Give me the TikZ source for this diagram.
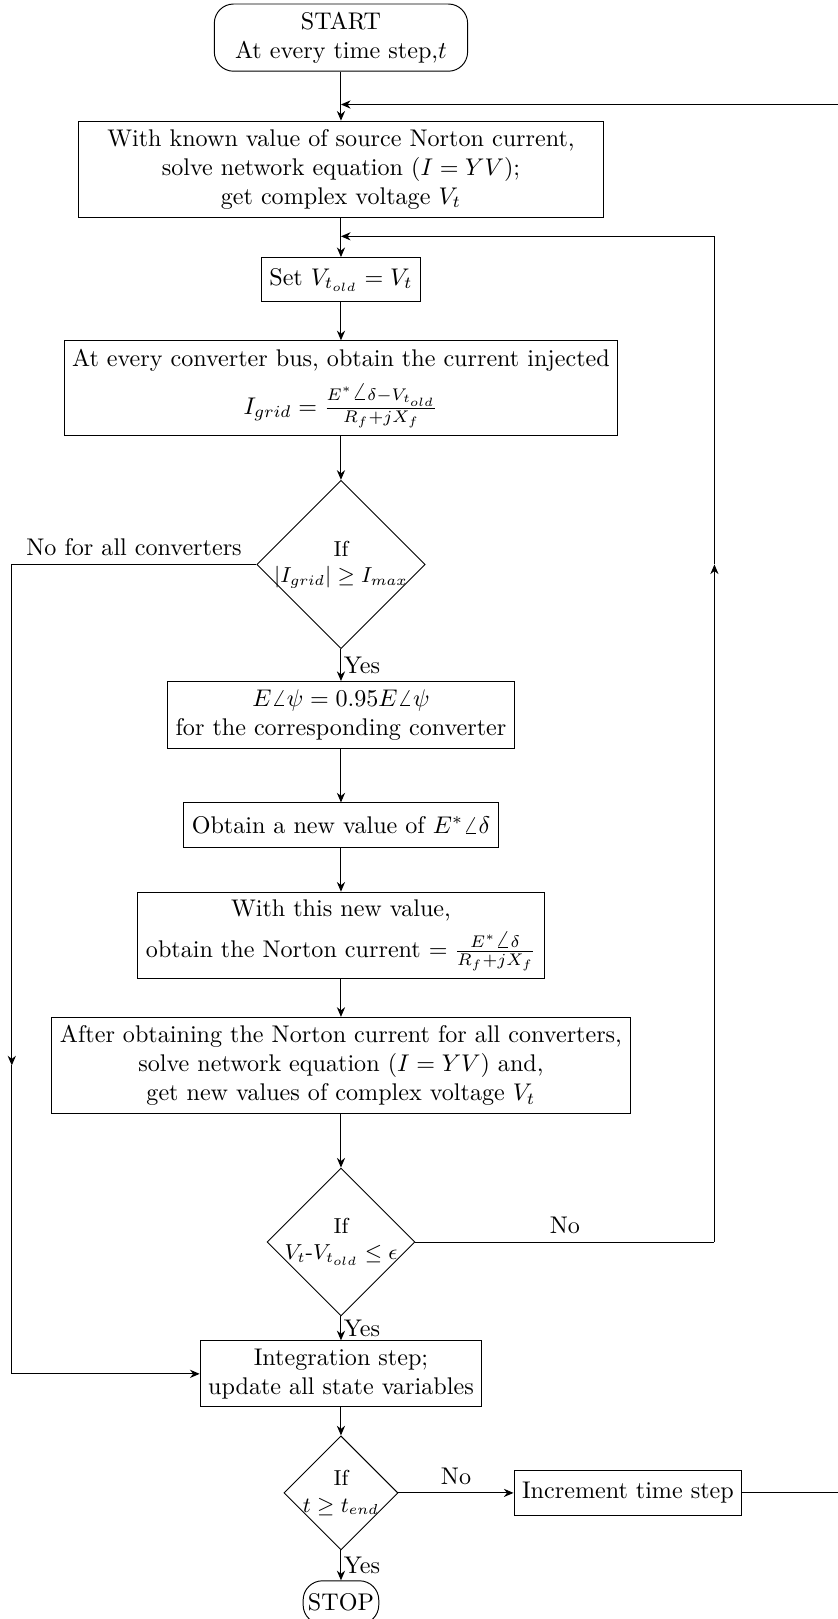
\documentclass[tikz,border=0pt]{standalone}
\usepackage{tikz}
\usetikzlibrary{positioning, shapes.geometric, arrows.meta}
\tikzset{
    >={Stealth[length=4pt,width=3.4pt,inset=1.3pt]}, % arrow heads
    block/.style={draw, rectangle, align=center, minimum height=18.4pt}, % the process boxes
    term/.style={draw, rectangle, rounded corners=8pt, align=center}, % start / stop
    decision/.style={draw, diamond, aspect=1, inner sep=-1.3pt, align=center, font=\small}, % the tests
    yes/.style={right, inner sep=1pt}
}

\begin{document}
\begin{tikzpicture}
    \useasboundingbox (-141.4pt,15.6pt) rectangle (206.1pt,-655.8pt);

        \node[term,inner xsep=8.6pt] (start) {START\\At every time step,$t$};
        \node[block,below=20.3pt of start,minimum width=218pt] (solve) {With known value of source Norton current,\\solve network equation $(I=YV)$;\\get complex voltage $V_t$};
        \node[block,below=16.4pt of solve] (setv) {Set $V_{t_{old}}=V_t$};
        \node[block,below=15.7pt of setv] (igrid) {At every converter bus, obtain the current injected\\[4.5pt]$I_{grid}=\frac{E^*\angle\delta-V_{t_{old}}}{R_f+jX_f}$};
        \node[decision,below=18.2pt of igrid,minimum size=69.7pt] (ifmax) {If\\$|I_{grid}|\geq I_{max}$};
        \node[block,below=13.2pt of ifmax] (reduce) {$E\angle\psi=0.95E\angle\psi$\\for the corresponding converter};
        \node[block,below=22.3pt of reduce] (newe) {Obtain a new value of $E^*\angle\delta$};
        \node[block,below=18.2pt of newe] (norton) {With this new value,\\[3.3pt]obtain the Norton current $=\frac{E^*\angle\delta}{R_f+jX_f}$};
        \node[block,below=15.7pt of norton] (resolve) {After obtaining the Norton current for all converters,\\solve network equation $(I=YV)$ and,\\get new values of complex voltage $V_t$};
        \node[decision,below=22.2pt of resolve,minimum size=61pt] (ifconv) {If\\$V_t$-$V_{t_{old}}\leq\epsilon$};
        \node[block,below=9.9pt of ifconv] (integ) {Integration step;\\update all state variables};
        \node[decision,below=11.6pt of integ,minimum size=47.3pt] (ifend) {If\\$t\geq t_{end}$};
        \node[block,right=47.7pt of ifend] (incr) {Increment time step};
        \node[term,below=12.4pt of ifend,inner xsep=2pt,minimum height=18pt] (stop) {STOP};

        % junctions on the main line and corners of the loops
        \coordinate[above=6.7pt of solve] (j1);
        \coordinate[above=8.6pt of setv] (j2);
        \coordinate[left=101.4pt of ifmax] (lc);
        \coordinate[right=124pt of ifconv] (rc);
        \coordinate[right=60pt of incr] (fc);

        \draw[->] (start) edge (solve);
        \draw[->] (solve) edge (setv);
        \draw[->] (setv) edge (igrid);
        \draw[->] (igrid) edge (ifmax);
        \draw[->] (ifmax) edge node[yes] {Yes} (reduce);
        \draw[->] (reduce) edge (newe);
        \draw[->] (newe) edge (norton);
        \draw[->] (norton) edge (resolve);
        \draw[->] (resolve) edge (ifconv);
        \draw[->] (ifconv) edge node[yes] {Yes} (integ);
        \draw[->] (integ) edge (ifend);
        \draw[->] (ifend) edge node[yes] {Yes} (stop);
        \draw[->] (ifend) edge node[above] {No} (incr);

        % no limit hit: skip to the integration step
        \draw (ifmax) -- node[above] {No for all converters} (lc);
        \draw[->] (lc) -- (lc |- resolve);
        \draw[->] (lc |- resolve) |- (integ);

        % not converged: iterate again
        \draw (ifconv) -- node[above] {No} (rc);
        \draw[->] (rc) -- (rc |- ifmax);
        \draw[->] (rc |- ifmax) |- (j2);

        % next time step
        \draw (incr) -- (fc);
        \draw[->] (fc) |- (j1);

    \end{tikzpicture}
\end{document}
